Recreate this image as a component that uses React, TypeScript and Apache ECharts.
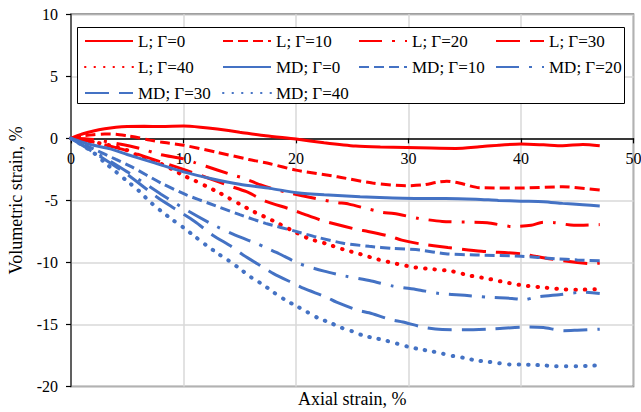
import React, { useEffect, useRef } from "react";
import * as echarts from "echarts";

// Volumetric strain (%) against axial strain (%), pairs of [axial, volumetric]
const L_G0 = [[0,0],[1,0.35],[2,0.6],[3,0.78],[4,0.9],[5,0.96],[6.5,0.97],[8,0.96],[10,0.99],[11.5,0.9],[13,0.75],[15,0.5],[17.3,0.21],[20,-0.06],[22.5,-0.35],[25.3,-0.62],[27.5,-0.7],[29.8,-0.73],[32,-0.78],[34.2,-0.81],[36.3,-0.68],[38,-0.55],[40,-0.46],[42,-0.52],[43.7,-0.59],[45.5,-0.49],[47,-0.6]];
const L_G10 = [[0,0],[1,0.2],[2,0.3],[3,0.35],[4,0.33],[5,0.2],[6,0.05],[7,-0.14],[8,-0.3],[10,-0.55],[13,-1.13],[15.8,-1.7],[17.7,-2.05],[20,-2.56],[23.7,-3.1],[26.8,-3.6],[29.8,-3.82],[31.3,-3.75],[32.5,-3.55],[33.4,-3.45],[34.5,-3.6],[36.3,-3.98],[40,-4.0],[43.7,-3.9],[47,-4.17]];
const L_G20 = [[0,0],[2,-0.1],[4,-0.4],[6.1,-0.8],[7.9,-1.3],[10,-1.65],[11,-1.95],[12,-2.25],[14,-2.85],[15.3,-3.2],[17,-3.8],[19,-4.3],[21.2,-4.75],[23.6,-5.16],[24.7,-5.3],[26.6,-5.73],[27.7,-5.97],[28.7,-6.05],[30.9,-6.45],[33,-6.7],[35,-6.75],[37,-6.8],[39.2,-7.1],[40.9,-7.0],[42,-6.75],[43,-6.8],[44.7,-7.0],[47,-6.95]];
const L_G30 = [[0,0],[2,-0.3],[4,-0.75],[5,-1.0],[8,-1.9],[10,-2.5],[12.5,-3.3],[14,-3.8],[15.6,-4.3],[16.5,-4.7],[17.4,-5.1],[19.3,-5.65],[20.4,-6.0],[22.4,-6.65],[23.3,-6.86],[25.4,-7.34],[26.4,-7.5],[28.4,-7.9],[29.4,-8.2],[31,-8.5],[33.5,-8.8],[36.5,-9.1],[40,-9.3],[42.5,-9.7],[45,-10.0],[46.4,-10.1],[47,-10.05]];
const L_G40 = [[0,0],[2,-0.3],[4,-0.67],[5,-0.95],[6,-1.4],[7,-1.75],[8,-2.05],[9,-2.5],[10,-3.0],[11,-3.4],[12,-3.85],[13,-4.3],[14,-4.8],[15,-5.3],[16,-5.8],[17.4,-6.4],[18.1,-6.7],[19.6,-7.4],[21.1,-8.06],[22.7,-8.5],[24.2,-8.95],[25.7,-9.33],[27.3,-9.76],[28.9,-10.1],[30.6,-10.4],[32.2,-10.55],[33.8,-10.7],[35.4,-11.05],[37,-11.3],[38.6,-11.6],[40.2,-11.86],[41.8,-12.0],[43.5,-12.15],[45.1,-12.2],[46.8,-12.15]];
const MD_G0 = [[0,0],[1,-0.3],[2,-0.55],[3.5,-0.85],[5,-1.3],[7.5,-2.0],[10,-2.7],[12.5,-3.25],[15,-3.7],[17.7,-4.03],[20.1,-4.38],[22.5,-4.55],[25.7,-4.7],[28,-4.78],[31,-4.84],[33.3,-4.84],[36,-4.9],[38,-5.0],[40,-5.06],[42,-5.1],[43.7,-5.24],[45.5,-5.35],[47,-5.46]];
const MD_G10 = [[0,0],[2,-0.85],[4,-1.7],[5.4,-2.3],[8,-3.6],[10.3,-4.57],[12.3,-5.25],[15,-6.15],[17.3,-6.85],[20,-7.5],[22,-8.0],[24.2,-8.45],[26.5,-8.7],[28.6,-8.87],[31,-9.0],[33.3,-9.3],[36,-9.4],[40,-9.5],[43,-9.7],[45,-9.8],[47,-9.87]];
const MD_G20 = [[0,0],[2.5,-1.3],[5,-2.7],[8,-4.5],[10.5,-5.9],[12.5,-6.9],[14.6,-7.8],[16.5,-8.47],[17.45,-8.87],[18.5,-9.3],[20.3,-10.1],[22.5,-10.7],[24.4,-11.1],[26.7,-11.5],[28.6,-11.9],[30.8,-12.2],[32.7,-12.5],[35,-12.65],[37,-12.8],[39.2,-12.9],[40.3,-13.0],[41.3,-12.8],[43.4,-12.6],[45.5,-12.4],[47,-12.5]];
const MD_G30 = [[0,0],[2.5,-1.4],[5,-2.9],[7.6,-4.7],[9.2,-5.65],[11,-6.7],[12.6,-7.8],[14.3,-8.74],[15.3,-9.4],[17,-10.35],[18,-10.9],[19.8,-11.7],[20.7,-12.1],[22.7,-12.8],[23.6,-13.2],[25.5,-13.85],[26.5,-14.06],[28.4,-14.6],[29.5,-14.8],[31.4,-15.24],[33,-15.4],[35,-15.42],[37.6,-15.35],[40.7,-15.2],[42,-15.25],[43.8,-15.5],[45,-15.46],[47,-15.38]];
const MD_G40 = [[0,0],[1,-0.55],[2,-1.15],[3,-1.95],[4,-2.7],[5,-3.45],[6,-4.2],[7,-5.1],[8,-5.85],[9,-6.55],[10,-7.2],[11,-7.9],[12,-8.6],[13,-9.25],[14,-9.85],[15,-10.5],[16,-11.2],[17,-11.75],[18,-12.4],[19,-13.0],[20,-13.5],[21,-14.0],[22,-14.5],[23,-14.85],[24,-15.25],[25,-15.55],[26,-15.9],[27,-16.1],[28,-16.3],[29,-16.55],[30,-16.8],[31,-17.0],[32,-17.15],[33,-17.35],[34,-17.55],[35,-17.7],[36,-17.9],[37,-18.0],[38,-18.12],[39,-18.22],[40,-18.23],[41,-18.25],[42,-18.3],[43,-18.36],[44,-18.37],[45,-18.37],[46,-18.33],[47,-18.3]];

// Legend columns (read row by row: 4 + 4 + 2 entries)
const LEGEND_COLUMNS = [
  ["L; Γ=0", "L; Γ=40", "MD; Γ=30"],
  ["L; Γ=10", "MD; Γ=0", "MD; Γ=40"],
  ["L; Γ=20", "MD; Γ=10"],
  ["L; Γ=30", "MD; Γ=20"],
];

const FONT = '"Liberation Serif", "Times New Roman", serif';
const RED = "#ff0000";
const BLUE = "#4472c4";

// Dash pattern per Γ level
const DASH: Record<number, any> = {
  0: "solid",
  10: [10, 5],
  20: [23, 10, 3, 10],
  30: [24, 10],
  40: [0.5, 9],
};

const SERIES: [string, number[][], string, number][] = [
  ["L; Γ=0", L_G0, RED, 0],
  ["L; Γ=10", L_G10, RED, 10],
  ["L; Γ=20", L_G20, RED, 20],
  ["L; Γ=30", L_G30, RED, 30],
  ["L; Γ=40", L_G40, RED, 40],
  ["MD; Γ=0", MD_G0, BLUE, 0],
  ["MD; Γ=10", MD_G10, BLUE, 10],
  ["MD; Γ=20", MD_G20, BLUE, 20],
  ["MD; Γ=30", MD_G30, BLUE, 30],
  ["MD; Γ=40", MD_G40, BLUE, 40],
];

const LEGEND_LEFT = [84, 222, 358, 495];

const GRID_TOP = 14.3;
const GRID_BOTTOM = 25.5;
const CHART_H = 412;
const Y_MIN = -20;
const Y_MAX = 10;

export default function App() {
  const ref = useRef<HTMLDivElement>(null);

  useEffect(() => {
    if (!ref.current) return;
    const chart = echarts.init(ref.current, undefined, { renderer: "svg" });

    // the x axis runs along the zero line: shift it up from the grid's bottom edge
    const plotH = CHART_H - GRID_TOP - GRID_BOTTOM;
    const zeroShift = (plotH * (0 - Y_MIN)) / (Y_MAX - Y_MIN);

    const series = SERIES.map(([name, data, color, g]) => ({
      name,
      type: "line",
      data,
      symbol: "none",
      smooth: 0.25,
      lineStyle: {
        color,
        width: g === 40 ? 4 : 3,
        type: DASH[g],
        cap: g === 40 ? "round" : "butt",
      },
      itemStyle: { color },
    }));

    const legends = LEGEND_COLUMNS.map((names, i) => ({
      orient: "vertical",
      left: LEGEND_LEFT[i],
      top: 31,
      padding: 0,
      itemWidth: 48,
      itemHeight: 14,
      itemGap: 6,
      selectedMode: false,
      data: names,
      itemStyle: { opacity: 0 },
      textStyle: { fontFamily: FONT, fontSize: 17, color: "#000", lineHeight: 20 },
    }));

    chart.setOption({
      animation: false,
      textStyle: { fontFamily: FONT },
      grid: {
        left: 71,
        right: 7.5,
        top: GRID_TOP,
        bottom: GRID_BOTTOM,
        outerBoundsMode: "none",
        containLabel: false,
        show: true,
        borderColor: "#404040",
        borderWidth: 1.5,
        backgroundColor: "transparent",
      },
      xAxis: {
        type: "value",
        min: 0,
        max: 50,
        interval: 10,
        offset: -zeroShift,
        name: "Axial strain, %",
        nameLocation: "middle",
        nameGap: 252,
        nameTextStyle: { fontFamily: FONT, fontSize: 18, color: "#000" },
        axisLine: { onZero: false, lineStyle: { color: "#000", width: 1.5 } },
        axisTick: { show: true, length: 5, lineStyle: { color: "#000", width: 1.2 } },
        axisLabel: { margin: 12, fontFamily: FONT, fontSize: 16, color: "#000" },
        splitLine: { show: true, lineStyle: { color: "#d9d9d9", width: 1.5 } },
      },
      yAxis: {
        type: "value",
        min: Y_MIN,
        max: Y_MAX,
        interval: 5,
        name: "Volumetric strain, %",
        nameLocation: "middle",
        nameGap: 46,
        nameTextStyle: { fontFamily: FONT, fontSize: 18, color: "#000" },
        axisLine: { show: true, onZero: false, lineStyle: { color: "#404040", width: 1.5 } },
        axisTick: { show: true, length: 5, lineStyle: { color: "#000", width: 1.2 } },
        axisLabel: { margin: 13, fontFamily: FONT, fontSize: 16, color: "#000" },
        splitLine: { show: true, lineStyle: { color: "#d9d9d9", width: 1.5 } },
      },
      legend: legends,
      graphic: [
        {
          type: "rect",
          z: 1,
          shape: { x: 77.5, y: 27.5, width: 547, height: 76 },
          style: { fill: "#fff", stroke: "#000", lineWidth: 1 },
        },
      ],
      series,
    });

    return () => chart.dispose();
  }, []);

  return (
    <div
      ref={ref}
      style={{ position: "fixed", left: 0, top: 0, width: 641, height: 412, background: "#fff" }}
    />
  );
}
